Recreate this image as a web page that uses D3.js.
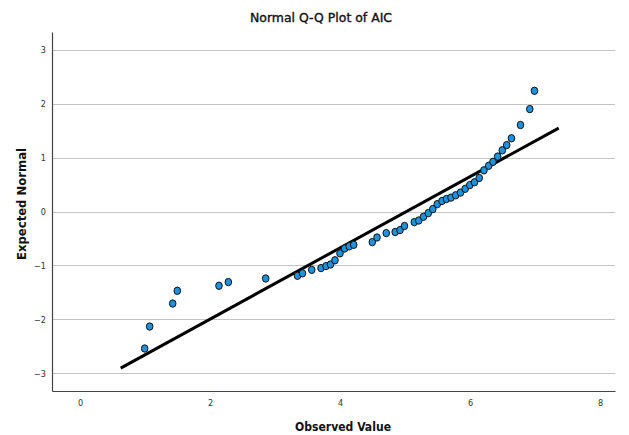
<!DOCTYPE html>
<html>
<head>
<meta charset="utf-8">
<script src="https://cdn.jsdelivr.net/npm/d3@7"></script>
<style>
  html, body { margin: 0; padding: 0; background: #fff; }
  svg { display: block; }
  text { font-family: "DejaVu Sans Condensed", "Liberation Sans", sans-serif; }
</style>
</head>
<body>
<svg id="chart" width="629" height="435"></svg>
<script>
// Observed AIC values (x) and their expected normal quantiles (y)
const observed = [0.995, 1.072, 1.426, 1.497, 2.138, 2.282, 2.857, 3.346, 3.423, 3.565,
  3.708, 3.785, 3.854, 3.923, 4.000, 4.072, 4.142, 4.211, 4.497, 4.569,
  4.712, 4.849, 4.923, 4.992, 5.143, 5.212, 5.285, 5.358, 5.428, 5.497,
  5.569, 5.638, 5.708, 5.780, 5.854, 5.926, 5.997, 6.069, 6.142, 6.215,
  6.288, 6.354, 6.426, 6.497, 6.565, 6.638, 6.777, 6.920, 6.992];
const expected = [-2.542, -2.134, -1.707, -1.471, -1.378, -1.309, -1.243, -1.193, -1.147, -1.082,
  -1.050, -1.013, -0.983, -0.905, -0.776, -0.687, -0.646, -0.618, -0.568, -0.482,
  -0.401, -0.380, -0.345, -0.269, -0.197, -0.167, -0.098, -0.030, 0.045, 0.137,
  0.195, 0.232, 0.258, 0.301, 0.351, 0.421, 0.490, 0.542, 0.622, 0.764,
  0.848, 0.922, 1.019, 1.135, 1.232, 1.358, 1.605, 1.900, 2.239];

// Reference line end points (observed, expected)
const lineX = [0.626, 7.365];
const lineY = [-2.905, 1.547];

// Axis ticks
const xTicks = [0, 2, 4, 6, 8];
const yTicks = [-3, -2, -1, 0, 1, 2, 3];

const title = "Normal Q-Q Plot of AIC";
const xTitle = "Observed Value";
const yTitle = "Expected Normal";

const svg = d3.select("#chart");
const plot = { left: 52, right: 615, top: 32, bottom: 391 };

const x = d3.scaleLinear().domain([-0.431, 8.231]).range([plot.left, plot.right]);
const y = d3.scaleLinear().domain([-3.33, 3.33]).range([plot.bottom, plot.top]);

// Horizontal gridlines
svg.append("g")
  .selectAll("line")
  .data(yTicks)
  .join("line")
  .attr("x1", plot.left).attr("x2", plot.right)
  .attr("y1", d => Math.round(y(d)) + 0.5).attr("y2", d => Math.round(y(d)) + 0.5)
  .attr("stroke", "#c4c4c4").attr("stroke-width", 1);

// Y axis
const yAxis = svg.append("g")
  .attr("transform", `translate(${plot.left},0)`)
  .call(d3.axisLeft(y).tickValues(yTicks).tickSize(0).tickPadding(6).tickFormat(d3.format("d")));
yAxis.select(".domain").attr("stroke", "#444").attr("stroke-width", 1.2);
yAxis.selectAll("text").attr("font-size", 9).attr("fill", "#333");

// X axis
const xAxis = svg.append("g")
  .attr("transform", `translate(0,${plot.bottom})`)
  .call(d3.axisBottom(x).tickValues(xTicks).tickSize(0).tickPadding(9).tickFormat(d3.format("d")));
xAxis.select(".domain").attr("stroke", "#444").attr("stroke-width", 1.2);
xAxis.selectAll("text").attr("font-size", 9).attr("fill", "#333");

// Reference line
svg.append("line")
  .attr("x1", x(lineX[0])).attr("y1", y(lineY[0]))
  .attr("x2", x(lineX[1])).attr("y2", y(lineY[1]))
  .attr("stroke", "#000").attr("stroke-width", 3);

// Points
svg.append("g")
  .selectAll("ellipse")
  .data(observed.map((v, i) => [v, expected[i]]))
  .join("ellipse")
  .attr("cx", d => x(d[0]))
  .attr("cy", d => y(d[1]))
  .attr("rx", 3.3).attr("ry", 3.7)
  .attr("fill", "#1e92dc")
  .attr("stroke", "#111").attr("stroke-width", 1);

// Titles
svg.append("text")
  .attr("x", 321).attr("y", 22)
  .attr("text-anchor", "middle")
  .attr("font-size", 13).attr("fill", "#111")
  .attr("stroke", "#111").attr("stroke-width", 0.35)
  .attr("textLength", 142).attr("lengthAdjust", "spacingAndGlyphs")
  .text(title);

svg.append("text")
  .attr("x", 343).attr("y", 431)
  .attr("text-anchor", "middle")
  .attr("font-size", 13).attr("font-weight", "bold").attr("fill", "#111")
  .attr("textLength", 96).attr("lengthAdjust", "spacingAndGlyphs")
  .text(xTitle);

svg.append("text")
  .attr("transform", "translate(26,204) rotate(-90)")
  .attr("text-anchor", "middle")
  .attr("font-size", 13).attr("font-weight", "bold").attr("fill", "#111")
  .attr("textLength", 112).attr("lengthAdjust", "spacingAndGlyphs")
  .text(yTitle);
</script>
</body>
</html>
